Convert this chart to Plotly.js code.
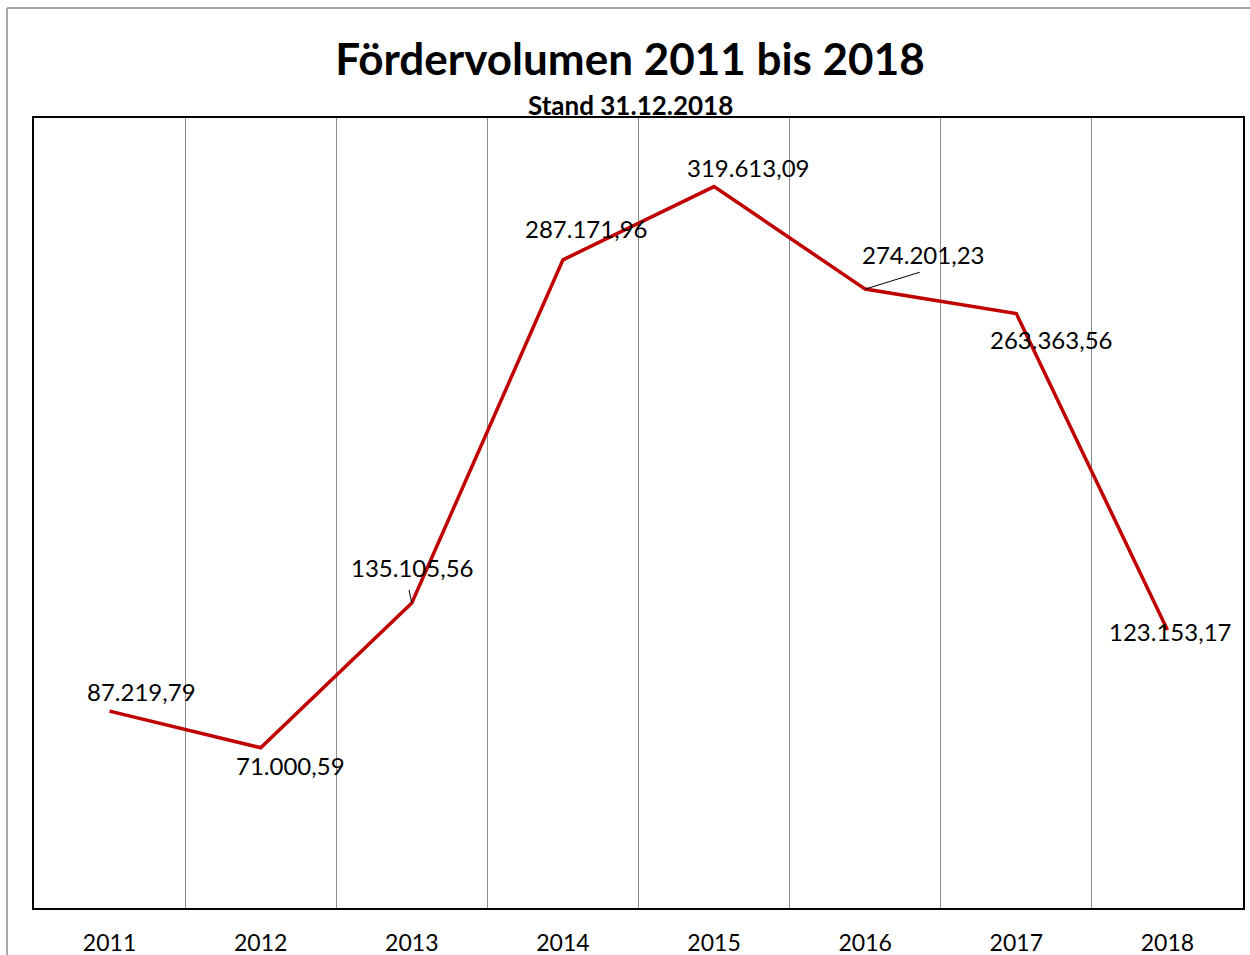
<!DOCTYPE html>
<html>
<head>
<meta charset="utf-8">
<script src="https://cdn.plot.ly/plotly-3.0.1.min.js"></script>
<style>
  html, body { margin: 0; padding: 0; background: #ffffff; }
  #chart { width: 1250px; height: 955px; }
</style>
</head>
<body>
<div id="chart"></div>
<script>
// ---- data ----
const years = ["2011", "2012", "2013", "2014", "2015", "2016", "2017", "2018"];
const volumes = [87219.79, 71000.59, 135105.56, 287171.96, 319613.09, 274201.23, 263363.56, 123153.17];
const titleText = "Fördervolumen 2011 bis 2018";
const subtitleText = "Stand 31.12.2018";

// ---- label placement (pixel offsets of each data label from its point; optional leader line end) ----
const labelOffsets = [
  {dx: 32, dy: -20},
  {dx: 30, dy: 18},
  {dx: 0, dy: -36, leader: [-3, -14]},
  {dx: 23, dy: -31},
  {dx: 34, dy: -19},
  {dx: 58, dy: -35, leader: [55, -17]},
  {dx: 35, dy: 26},
  {dx: 3, dy: 1}
];

function fmtDE(v) {
  const parts = v.toFixed(2).split(".");
  const intPart = parts[0].replace(/\B(?=(\d{3})+(?!\d))/g, ".");
  return intPart + "," + parts[1];
}

const FONT = "Lato, 'Open Sans', sans-serif";

const trace = {
  type: "scatter",
  mode: "lines",
  x: years,
  y: volumes,
  line: {color: "#C00000", width: 3.5},
  hoverinfo: "skip"
};

// category axis: annotation x given as category index
const annotations = [];
years.forEach((yr, i) => {
  const o = labelOffsets[i];
  const xi = years.indexOf(yr);
  annotations.push({
    x: xi, y: volumes[i], xref: "x", yref: "y",
    text: fmtDE(volumes[i]),
    font: {family: FONT, size: 24, color: "#000000"},
    xanchor: "center", yanchor: "middle",
    showarrow: false, xshift: o.dx, yshift: -o.dy
  });
  if (o.leader) {
    annotations.push({
      x: xi, y: volumes[i], xref: "x", yref: "y",
      text: " ", font: {size: 1},
      showarrow: true, arrowhead: 0, arrowwidth: 1, arrowcolor: "#000000",
      ax: o.leader[0], ay: o.leader[1], standoff: 0, borderpad: 0
    });
  }
});

annotations.push({
  xref: "paper", yref: "paper", x: (630 - 34) / 1209, y: 1 + (118 - 105) / 790,
  xanchor: "center", yanchor: "middle", showarrow: false,
  text: "<b>" + subtitleText + "</b>",
  font: {family: FONT, size: 26, color: "#000000"}
});

const layout = {
  width: 1250, height: 955,
  margin: {l: 34, r: 7, t: 118, b: 47},
  paper_bgcolor: "#ffffff",
  plot_bgcolor: "#ffffff",
  showlegend: false,
  title: {
    text: "<b>" + titleText + "</b>",
    x: 630 / 1250, xanchor: "center",
    y: 1 - 60 / 955, yanchor: "middle", yref: "container",
    font: {family: FONT, size: 44, color: "#000000"}
  },
  xaxis: {
    type: "category",
    range: [-0.5, 7.5],
    tickson: "boundaries",
    showgrid: true, gridcolor: "#8c8c8c", gridwidth: 1,
    showline: true, linecolor: "#000000", linewidth: 2, mirror: true,
    ticks: "", ticklabelstandoff: 13,
    tickfont: {family: FONT, size: 23, color: "#000000"},
    zeroline: false, fixedrange: true
  },
  yaxis: {
    range: [0, 350000],
    showgrid: false, zeroline: false,
    showticklabels: false, ticks: "",
    showline: true, linecolor: "#000000", linewidth: 2, mirror: true,
    fixedrange: true
  },
  annotations: annotations,
  shapes: [
    {type: "line", xref: "paper", yref: "paper",
     x0: (7 - 34) / 1209, x1: (7 - 34) / 1209, y0: (908 - 960) / 790, y1: (908 - 8) / 790,
     line: {color: "#a6a6a6", width: 2}},
    {type: "line", xref: "paper", yref: "paper",
     x0: (7 - 34) / 1209, x1: (1260 - 34) / 1209, y0: (908 - 8) / 790, y1: (908 - 8) / 790,
     line: {color: "#a6a6a6", width: 2}}
  ]
};

Plotly.newPlot("chart", [trace], layout, {displayModeBar: false, staticPlot: true});
</script>
</body>
</html>
